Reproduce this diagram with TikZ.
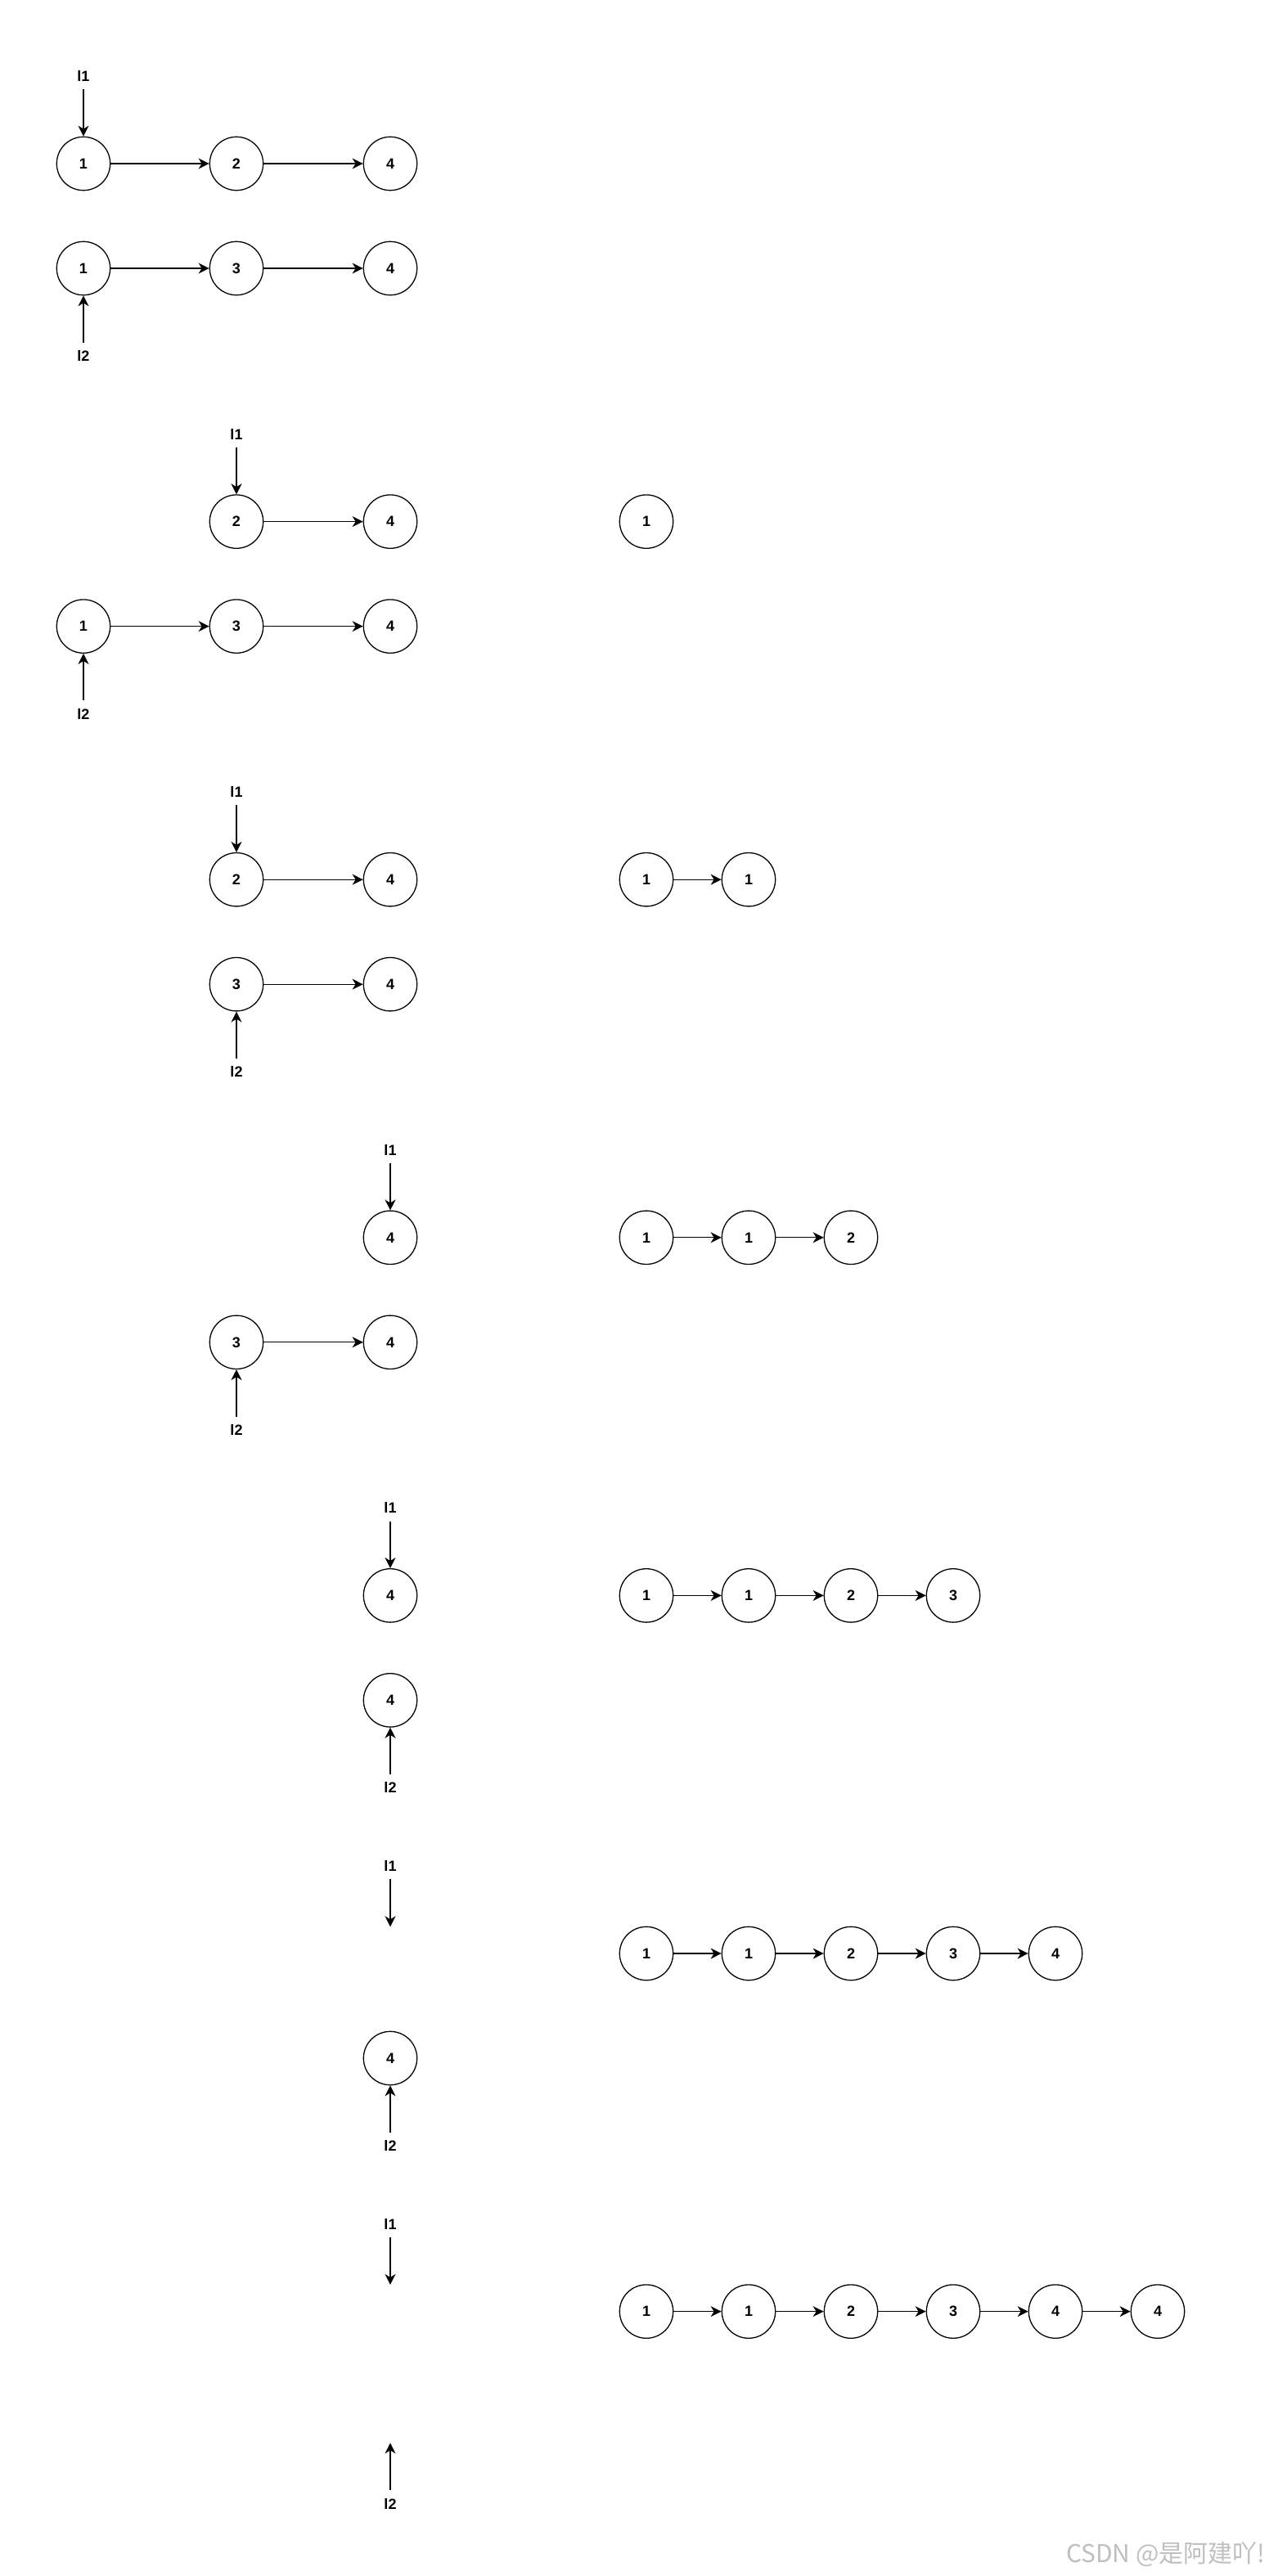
\documentclass[tikz,border=0pt]{standalone}
\usepackage{fontspec}
\setmainfont{Liberation Sans}
\newfontfamily\cjk{Noto Sans CJK SC}
\usetikzlibrary{arrows.meta}

\begin{document}
\begin{tikzpicture}[x=1pt, y=-1pt, line width=0.65pt,
    >={Stealth[length=6.5pt, width=6.5pt, inset=2pt]},
    nd/.style={circle, draw, minimum size=32.7pt, inner sep=0pt, font=\fontsize{9}{10}\selectfont\bfseries},
    ptr/.style={inner sep=4.5pt, font=\fontsize{9}{10}\selectfont\bfseries}]
    \useasboundingbox (0, 0) rectangle (775.5, 1574.5);

    \def\xa{51}
    \def\xb{144.5}
    \def\xc{238.5}
    \def\r{16.35}

    % step 1
    \node[ptr] (lp1) at (\xa, 46.5) {l1};
    \node[nd] (p1a) at (\xa, 100) {1};
    \node[nd] (p1b) at (\xb, 100) {2};
    \node[nd] (p1c) at (\xc, 100) {4};
    \node[nd] (q1a) at (\xa, 164) {1};
    \node[nd] (q1b) at (\xb, 164) {3};
    \node[nd] (q1c) at (\xc, 164) {4};
    \node[ptr] (lq1) at (\xa, 217.5) {l2};
    \draw[->] (lp1) -- (p1a);
    \draw[->] (lq1) -- (q1a);
    \draw[->] (p1a) -- (p1b);
    \draw[->] (p1b) -- (p1c);
    \draw[->] (q1a) -- (q1b);
    \draw[->] (q1b) -- (q1c);

    % step 2
    \node[ptr] (lp2) at (\xb, 265.3) {l1};
    \node[nd] (p2b) at (\xb, 318.8) {2};
    \node[nd] (p2c) at (\xc, 318.8) {4};
    \node[nd] (q2a) at (\xa, 382.8) {1};
    \node[nd] (q2b) at (\xb, 382.8) {3};
    \node[nd] (q2c) at (\xc, 382.8) {4};
    \node[ptr] (lq2) at (\xa, 436.3) {l2};
    \node[nd] (m2a) at (395, 318.8) {1};
    \draw[->] (lp2) -- (p2b);
    \draw[->] (lq2) -- (q2a);
    \draw[->] (p2b) -- (p2c);
    \draw[->] (q2a) -- (q2b);
    \draw[->] (q2b) -- (q2c);

    % step 3
    \node[ptr] (lp3) at (\xb, 484.1) {l1};
    \node[nd] (p3b) at (\xb, 537.6) {2};
    \node[nd] (p3c) at (\xc, 537.6) {4};
    \node[nd] (q3b) at (\xb, 601.6) {3};
    \node[nd] (q3c) at (\xc, 601.6) {4};
    \node[ptr] (lq3) at (\xb, 655.1) {l2};
    \node[nd] (m3a) at (395, 537.6) {1};
    \node[nd] (m3b) at (457.5, 537.6) {1};
    \draw[->] (lp3) -- (p3b);
    \draw[->] (lq3) -- (q3b);
    \draw[->] (p3b) -- (p3c);
    \draw[->] (q3b) -- (q3c);
    \draw[->] (m3a) -- (m3b);

    % step 4
    \node[ptr] (lp4) at (\xc, 702.9) {l1};
    \node[nd] (p4c) at (\xc, 756.4) {4};
    \node[nd] (q4b) at (\xb, 820.4) {3};
    \node[nd] (q4c) at (\xc, 820.4) {4};
    \node[ptr] (lq4) at (\xb, 873.9) {l2};
    \node[nd] (m4a) at (395, 756.4) {1};
    \node[nd] (m4b) at (457.5, 756.4) {1};
    \node[nd] (m4c) at (520, 756.4) {2};
    \draw[->] (lp4) -- (p4c);
    \draw[->] (lq4) -- (q4b);
    \draw[->] (q4b) -- (q4c);
    \draw[->] (m4a) -- (m4b);
    \draw[->] (m4b) -- (m4c);

    % step 5
    \node[ptr] (lp5) at (\xc, 921.7) {l1};
    \node[nd] (p5c) at (\xc, 975.2) {4};
    \node[nd] (q5c) at (\xc, 1039.2) {4};
    \node[ptr] (lq5) at (\xc, 1092.7) {l2};
    \node[nd] (m5a) at (395, 975.2) {1};
    \node[nd] (m5b) at (457.5, 975.2) {1};
    \node[nd] (m5c) at (520, 975.2) {2};
    \node[nd] (m5d) at (582.5, 975.2) {3};
    \draw[->] (lp5) -- (p5c);
    \draw[->] (lq5) -- (q5c);
    \draw[->] (m5a) -- (m5b);
    \draw[->] (m5b) -- (m5c);
    \draw[->] (m5c) -- (m5d);

    % step 6
    \node[ptr] (lp6) at (\xc, 1140.5) {l1};
    \coordinate (e6) at (\xc, 1194-\r);
    \node[nd] (q6c) at (\xc, 1258) {4};
    \node[ptr] (lq6) at (\xc, 1311.5) {l2};
    \node[nd] (m6a) at (395, 1194) {1};
    \node[nd] (m6b) at (457.5, 1194) {1};
    \node[nd] (m6c) at (520, 1194) {2};
    \node[nd] (m6d) at (582.5, 1194) {3};
    \node[nd] (m6e) at (645, 1194) {4};
    \draw[->] (lp6) -- (e6);
    \draw[->] (lq6) -- (q6c);
    \draw[->] (m6a) -- (m6b);
    \draw[->] (m6b) -- (m6c);
    \draw[->] (m6c) -- (m6d);
    \draw[->] (m6d) -- (m6e);

    % step 7
    \node[ptr] (lp7) at (\xc, 1359.3) {l1};
    \coordinate (e7) at (\xc, 1412.8-\r);
    \coordinate (f7) at (\xc, 1476.8+\r);
    \node[ptr] (lq7) at (\xc, 1530.3) {l2};
    \node[nd] (m7a) at (395, 1412.8) {1};
    \node[nd] (m7b) at (457.5, 1412.8) {1};
    \node[nd] (m7c) at (520, 1412.8) {2};
    \node[nd] (m7d) at (582.5, 1412.8) {3};
    \node[nd] (m7e) at (645, 1412.8) {4};
    \node[nd] (m7f) at (707.5, 1412.8) {4};
    \draw[->] (lp7) -- (e7);
    \draw[->] (lq7) -- (f7);
    \draw[->] (m7a) -- (m7b);
    \draw[->] (m7b) -- (m7c);
    \draw[->] (m7c) -- (m7d);
    \draw[->] (m7d) -- (m7e);
    \draw[->] (m7e) -- (m7f);

    \node[anchor=east, inner sep=0pt, text=black!25, font=\cjk\fontsize{15}{17}\selectfont] (mark) at (773.5, 1561) {CSDN @是阿建吖!};
  \end{tikzpicture}
\end{document}
